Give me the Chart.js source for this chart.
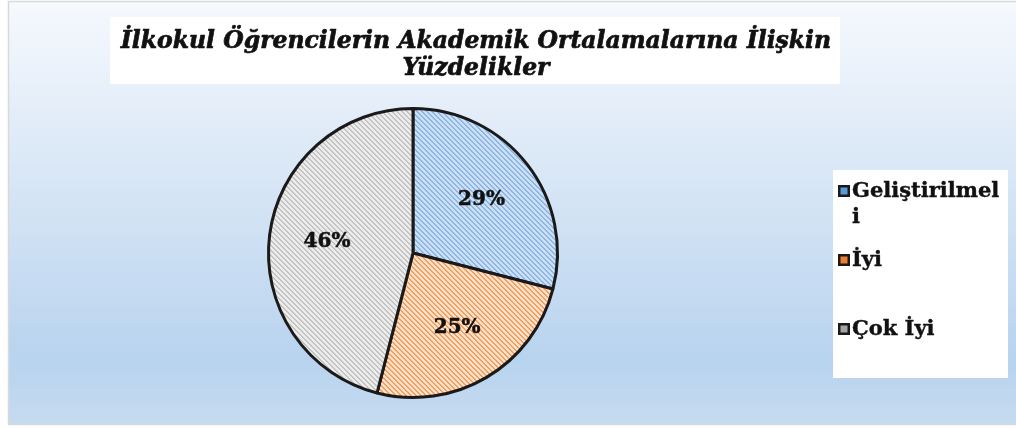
<!DOCTYPE html>
<html>
<head>
<meta charset="utf-8">
<script src="https://cdn.jsdelivr.net/npm/chart.js@4.4.1/dist/chart.umd.min.js"></script>
<style>
html,body{margin:0;padding:0;background:#fff;}
#wrap{width:1016px;height:428px;}
</style>
</head>
<body>
<div id="wrap"><canvas id="c" width="1016" height="428"></canvas></div>
<script>
const titleLines = ['İlkokul Öğrencilerin Akademik Ortalamalarına İlişkin', 'Yüzdelikler'];
const categories = ['Geliştirilmeli', 'İyi', 'Çok İyi'];
const percentages = [29, 25, 46];
const baseColors = ['#cbdff5', '#fde0c9', '#ececec'];
const stripeColors = ['#8fb5e2', '#f2a060', '#c3c3c3'];
const legendColors = ['#5b9bd5', '#ed7d31', '#a5a5a5'];

function makePattern(base, stripe) {
  const s = 5;
  const c = document.createElement('canvas');
  c.width = s; c.height = s;
  const g = c.getContext('2d');
  g.fillStyle = base; g.fillRect(0, 0, s, s);
  g.fillStyle = stripe;
  for (let y = 0; y < s; y++) for (let x = 0; x < s; x++) {
    const d = ((x - y) % s + s) % s;
    if (d === 0 || d === 1) g.fillRect(x, y, 1, 1);
  }
  return g.createPattern(c, 'repeat');
}
const ctx0 = document.getElementById('c').getContext('2d');
const patterns = baseColors.map((b, i) => makePattern(b, stripeColors[i]));

const FONT_SERIF = '"DejaVu Serif", Georgia, serif';

function heavyText(g, txt, x, y, w) {
  g.lineWidth = w;
  g.lineJoin = 'round';
  g.strokeStyle = g.fillStyle;
  g.strokeText(txt, x, y);
  g.fillText(txt, x, y);
}

const backgroundPlugin = {
  id: 'bg',
  beforeDraw(chart) {
    const g = chart.ctx;
    g.save();
    g.fillStyle = '#ffffff';
    g.fillRect(0, 0, chart.width, chart.height);
    const grad = g.createLinearGradient(0, 2, 0, 424);
    grad.addColorStop(0, '#f6f9fe');
    grad.addColorStop(0.45, '#d6e5f5');
    grad.addColorStop(0.85, '#b8d3ee');
    grad.addColorStop(1, '#c6dbf0');
    g.fillStyle = grad;
    g.fillRect(9, 2, chart.width - 9, 422);
    g.strokeStyle = '#d9d9d9';
    g.lineWidth = 1.5;
    g.strokeRect(8.5, 1.5, chart.width, 423);
    // title box
    g.fillStyle = '#ffffff';
    g.fillRect(110, 17, 730, 67);
    g.fillStyle = '#111111';
    g.font = 'italic bold 23.5px ' + FONT_SERIF;
    g.textAlign = 'center';
    g.textBaseline = 'alphabetic';
    heavyText(g, titleLines[0], 476, 48, 0.7);
    heavyText(g, titleLines[1], 476, 75, 0.7);
    g.restore();
  }
};

function wrapChars(g, text, maxW) {
  const lines = [];
  let cur = '';
  for (const ch of text) {
    if (cur && g.measureText(cur + ch).width > maxW) { lines.push(cur); cur = ch; }
    else cur += ch;
  }
  if (cur) lines.push(cur);
  return lines;
}

const legendPlugin = {
  id: 'customLegend',
  afterDraw(chart) {
    const g = chart.ctx;
    g.save();
    const bx = 833, by = 170, bw = 175, bh = 208;
    g.fillStyle = '#ffffff';
    g.fillRect(bx, by, bw, bh);
    g.font = 'bold 21px ' + FONT_SERIF;
    g.textBaseline = 'middle';
    g.textAlign = 'left';
    const labels = chart.data.labels;
    labels.forEach((lab, i) => {
      const cy = 191 + i * 69;
      g.fillStyle = '#1a1a1a';
      g.fillRect(838, cy - 6, 12, 12);
      g.fillStyle = legendColors[i];
      g.fillRect(840.5, cy - 3.5, 7, 7);
      g.fillStyle = '#111111';
      const lines = wrapChars(g, lab, 150);
      lines.forEach((ln, k) => heavyText(g, ln, 852, cy + 1 + k * 26, 0.4));
    });
    g.restore();
  }
};

const labelPlugin = {
  id: 'pctLabels',
  afterDatasetsDraw(chart) {
    const g = chart.ctx;
    const meta = chart.getDatasetMeta(0);
    g.save();
    g.font = 'bold 20px ' + FONT_SERIF;
    g.fillStyle = '#111111';
    g.textAlign = 'center';
    g.textBaseline = 'middle';
    meta.data.forEach((arc, i) => {
      const p = arc.getProps(['x', 'y', 'startAngle', 'endAngle', 'outerRadius'], true);
      const mid = (p.startAngle + p.endAngle) / 2;
      const r = p.outerRadius * 0.6;
      heavyText(g, chart.data.datasets[0].data[i] + '%', p.x + Math.cos(mid) * r, p.y + Math.sin(mid) * r, 0.5);
    });
    g.restore();
  }
};

new Chart(ctx0, {
  type: 'pie',
  data: {
    labels: categories,
    datasets: [{
      data: percentages,
      backgroundColor: patterns,
      borderColor: '#1a1a1a',
      borderWidth: 3
    }]
  },
  options: {
    responsive: false,
    animation: false,
    layout: { padding: { left: 267, right: 457, top: 107, bottom: 29 } },
    plugins: {
      legend: { display: false },
      title: { display: false },
      tooltip: { enabled: false }
    }
  },
  plugins: [backgroundPlugin, labelPlugin, legendPlugin]
});
</script>
</body>
</html>
